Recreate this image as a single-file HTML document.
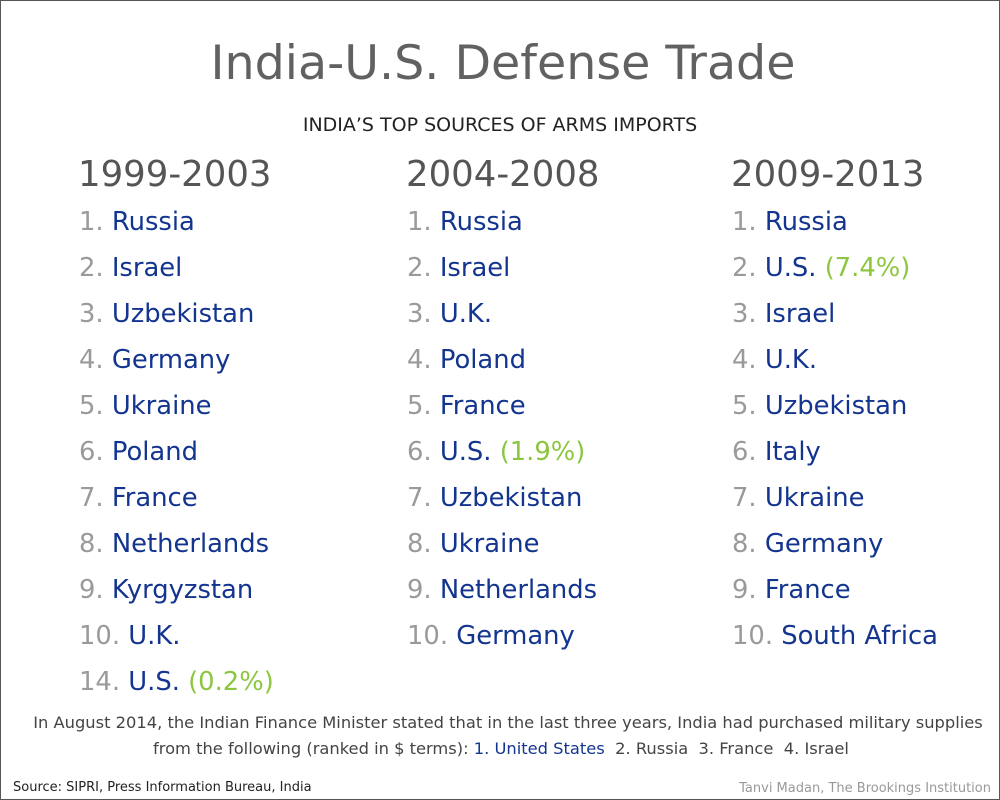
<!DOCTYPE html>
<html><head><meta charset="utf-8"><style>
body{margin:0;background:#fff;}
#page{position:relative;width:998px;height:798px;border:1px solid #555;font-family:"DejaVu Sans","Liberation Sans",sans-serif;overflow:hidden;background:#fff;}
.a{position:absolute;white-space:nowrap;line-height:1;}
.n{color:#9a9a9a;}
.c{color:#13358f;}
.g{color:#8cc63f;}
.row{font-size:25.8px;}
.hd{font-size:35.5px;color:#555;}
</style></head><body>
<div id="page">
<div class="a" style="left:0;width:1004px;text-align:center;top:39px;font-size:47.5px;color:#616161;">India-U.S. Defense Trade</div>
<div class="a" style="left:0;width:998px;text-align:center;top:115px;font-size:19px;color:#222;">INDIA’S TOP SOURCES OF ARMS IMPORTS</div>
<div id="cols"></div>
<div class="a" style="left:0;width:1014px;text-align:center;top:714px;font-size:16.3px;color:#444;">In August 2014, the Indian Finance Minister stated that in the last three years, India had purchased military supplies</div>
<div class="a" style="left:0;width:1000px;text-align:center;top:740px;font-size:16.3px;color:#444;">from the following (ranked in $ terms): <span class="c">1. United States</span>&nbsp; 2. Russia&nbsp; 3. France&nbsp; 4. Israel</div>
<div class="a" style="left:12px;top:780px;font-size:13px;color:#222;">Source: SIPRI, Press Information Bureau, India</div>
<div class="a" style="right:8px;top:781px;font-size:13px;color:#999;">Tanvi Madan, The Brookings Institution</div>
</div>
<script>
const periods=["1999-2003","2004-2008","2009-2013"];
const col1=[["1.","Russia"],["2.","Israel"],["3.","Uzbekistan"],["4.","Germany"],["5.","Ukraine"],["6.","Poland"],["7.","France"],["8.","Netherlands"],["9.","Kyrgyzstan"],["10.","U.K."],["14.","U.S.","(0.2%)"]];
const col2=[["1.","Russia"],["2.","Israel"],["3.","U.K."],["4.","Poland"],["5.","France"],["6.","U.S.","(1.9%)"],["7.","Uzbekistan"],["8.","Ukraine"],["9.","Netherlands"],["10.","Germany"]];
const col3=[["1.","Russia"],["2.","U.S.","(7.4%)"],["3.","Israel"],["4.","U.K."],["5.","Uzbekistan"],["6.","Italy"],["7.","Ukraine"],["8.","Germany"],["9.","France"],["10.","South Africa"]];
const lefts=[78,406,731];
const cols=[col1,col2,col3];
const host=document.getElementById('cols');
cols.forEach((list,i)=>{
  const h=document.createElement('div');
  h.className='a hd';h.style.left=(lefts[i]-1)+'px';h.style.top='156px';h.textContent=periods[i];
  
  
  host.appendChild(h);
  list.forEach((r,j)=>{
    const d=document.createElement('div');
    d.className='a row';d.style.left=lefts[i]+'px';d.style.top=(209+j*46)+'px';
    d.innerHTML='<span class="n">'+r[0]+'</span> <span class="c">'+r[1]+'</span>'+(r[2]?' <span class="g">'+r[2]+'</span>':'');
    
    
    host.appendChild(d);
  });
});
</script>
</body></html>
